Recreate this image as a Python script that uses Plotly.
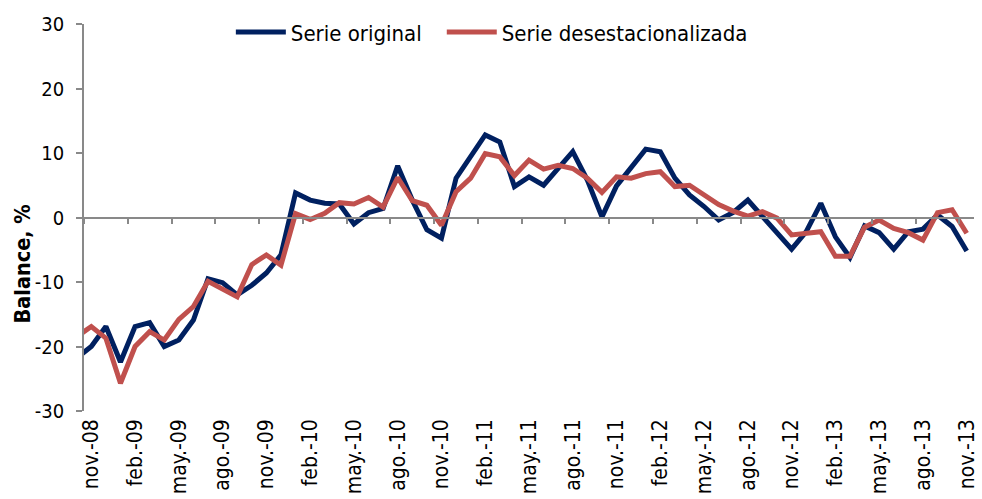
import plotly.graph_objects as go

# ---------------- data ----------------
MESES = ["ene.", "feb.", "mar.", "abr.", "may.", "jun.", "jul.", "ago.", "sep.", "oct.", "nov.", "dic."]

# monthly categories from oct.-08 to nov.-13 (oct.-08 lies just left of the plot area)
categorias = []
_anio, _mes = 2008, 9
for _ in range(62):
    categorias.append(f"{MESES[_mes]}-{_anio % 100:02d}")
    _mes += 1
    if _mes == 12:
        _mes = 0
        _anio += 1

posiciones = list(range(-1, 61))  # 0 = nov.-08

serie_original = [
    -21.8, -20.0, -16.9, -22.4, -16.9, -16.3, -20.0, -19.0, -15.9, -9.5,
    -10.1, -12.0, -10.5, -8.6, -5.8, 3.8, 2.7, 2.2, 2.1, -1.0,
    0.75, 1.4, 8.0, 2.7, -1.9, -3.2, 6.1, 9.4, 12.8, 11.7,
    4.8, 6.3, 5.0, 7.6, 10.2, 5.8, 0.1, 4.9, 7.9, 10.6,
    10.2, 6.1, 3.5, 1.7, -0.4, 0.8, 2.7, 0.1, -2.5, -4.9,
    -2.2, 2.2, -3.0, -6.2, -1.3, -2.35, -4.9, -2.2, -1.8, 0.4,
    -1.4, -5.2,
]

serie_desest = [
    -18.5, -16.9, -18.7, -25.7, -20.0, -17.7, -19.0, -15.8, -13.8, -9.9,
    -11.1, -12.3, -7.3, -5.8, -7.4, 0.6, -0.3, 0.65, 2.3, 2.1,
    3.1, 1.6, 6.2, 2.6, 1.9, -1.2, 4.0, 6.1, 9.9, 9.4,
    6.5, 8.9, 7.5, 8.1, 7.6, 6.1, 3.9, 6.3, 6.1, 6.8,
    7.1, 4.8, 5.0, 3.5, 2.0, 1.0, 0.2, 0.9, -0.1, -2.7,
    -2.5, -2.2, -6.0, -6.0, -1.5, -0.4, -1.7, -2.35, -3.5, 0.75,
    1.2, -2.45,
]

y_ticks = [-30, -20, -10, 0, 10, 20, 30]
y_tick_txt = ["-30", "-20", "-10", "0", "10", "20", "30"]

tick_pos = posiciones[1::3]
tick_txt = categorias[1::3]
limites = [p - 0.5 for p in tick_pos]

FONT = "DejaVu Sans Condensed, DejaVu Sans, sans-serif"
GRIS = "#898989"

fig = go.Figure()
fig.add_trace(go.Scatter(x=posiciones, y=serie_original, mode="lines", name="Serie original",
                         line=dict(color="#002060", width=5), legend="legend"))
fig.add_trace(go.Scatter(x=posiciones, y=serie_desest, mode="lines", name="Serie desestacionalizada",
                         line=dict(color="#C0504D", width=5), legend="legend2"))
fig.add_trace(go.Scatter(x=[None], y=[None], xaxis="x2", showlegend=False, hoverinfo="skip"))

leg_common = dict(orientation="h", y=0.979, yanchor="middle", xanchor="left",
                  font=dict(family=FONT, size=22, color="black"),
                  bgcolor="rgba(0,0,0,0)", itemwidth=50)

fig.update_layout(
    width=982, height=499,
    margin=dict(l=84, r=4, t=24, b=88),
    paper_bgcolor="white", plot_bgcolor="white",
    font=dict(family=FONT, size=20, color="black"),
    showlegend=True,
    legend=dict(x=0.165, **leg_common),
    legend2=dict(x=0.402, **leg_common),
    xaxis=dict(range=[-0.5, 60.5], tickmode="array", tickvals=tick_pos, ticktext=tick_txt,
               tickangle=-90, ticks="", showline=False, showgrid=False, zeroline=False,
               tickfont=dict(family=FONT, size=21, color="black"), ticklabelstandoff=3,
               ticklabeloverflow="allow"),
    xaxis2=dict(overlaying="x", anchor="free", position=0.5, range=[-0.5, 60.5],
                tickmode="array", tickvals=limites, showticklabels=False,
                ticks="outside", ticklen=6, tickwidth=1.5, tickcolor=GRIS,
                showline=True, linecolor=GRIS, linewidth=1.5, showgrid=False, zeroline=False),
    yaxis=dict(range=[-30, 30], tickmode="array", tickvals=y_ticks, ticktext=y_tick_txt,
               showline=True, linecolor=GRIS, linewidth=1.5,
               ticks="outside", ticklen=6, tickwidth=1.5, tickcolor=GRIS,
               showgrid=False, zeroline=False,
               tickfont=dict(family=FONT, size=20, color="black"), ticklabelstandoff=8),
    annotations=[dict(text="<b>Balance, %</b>", textangle=-90, xref="paper", yref="paper",
                      x=-0.069, y=0.38, showarrow=False, xanchor="center", yanchor="middle",
                      font=dict(family=FONT, size=21.5, color="black"))],
)

fig.write_html("out.html",
               config={"displayModeBar": False},
               post_script="document.body.style.margin='0px';document.body.style.padding='0px';"
                           "document.body.style.overflow='hidden';")
